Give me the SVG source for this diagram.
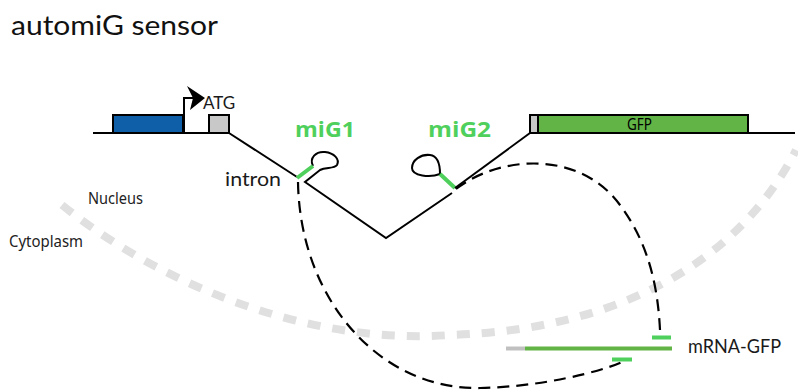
<svg xmlns="http://www.w3.org/2000/svg" width="798" height="390" viewBox="0 0 798 390">
<defs>
<style>
.line{fill:none;stroke:#000;stroke-width:2}
.dash{fill:none;stroke:#000;stroke-width:2.2;stroke-dasharray:12 7}
.green{fill:none;stroke:#4fd05c;stroke-width:4}
.box{stroke:#000;stroke-width:2}
.lbl{font-family:Lato,"Noto Sans",sans-serif;fill:#1a1a1a}
.mig{font-family:"Open Sans",Lato,sans-serif;font-weight:bold;fill:#4fd05c;font-size:22px}
.narrow{font-family:"Noto Sans",Lato,sans-serif;fill:#222}
</style>
</defs>
<rect width="798" height="390" fill="#fff"/>

<text class="lbl" x="11" y="35" font-size="27" textLength="207" lengthAdjust="spacingAndGlyphs" style="fill:#111">automiG sensor</text>

<g id="membrane">
<path d="M62,205 C170,292 320,345 450,335 C620,330 740,260 796,150" fill="none" stroke="#e0e0e0" stroke-width="8" stroke-dasharray="13 12"/>
<text class="narrow" x="88" y="204" font-size="15.5" textLength="55" lengthAdjust="spacingAndGlyphs">Nucleus</text>
<text class="narrow" x="9" y="247" font-size="15.5" textLength="74" lengthAdjust="spacingAndGlyphs">Cytoplasm</text>
</g>

<g id="gene">
<path class="line" d="M93,133 H229 M530,133 H795"/>
<rect id="promoter-exon" class="box" x="113" y="115" width="70" height="18" fill="#0f5fa8"/>
<rect id="exon1" class="box" x="209" y="115" width="20" height="18" fill="#c8c8c8"/>
<path class="line" d="M184,133 V98 H198"/>
<path d="M187,86 L205,98 L190,110 L193,98 Z" fill="#000"/>
<text class="lbl" x="203" y="109" font-size="17" font-family="'Liberation Sans',sans-serif">ATG</text>
<rect class="box" x="530" y="115" width="8" height="18" fill="#c8c8c8"/>
<rect id="gfp" class="box" x="538" y="115" width="210" height="18" fill="#62b446"/>
<text class="narrow" x="639.5" y="129.5" text-anchor="middle" font-size="15.5" textLength="25" lengthAdjust="spacingAndGlyphs" style="fill:#000">GFP</text>
</g>

<g id="intron">
<path class="line" d="M229,133 L297,177"/>
<path class="line" d="M313,166 C309,158 316,151 325,152 C334,153 340,159 337,165 C334,169 326,167 320,170 L305,182 L386,238 L452,193"/>
<path class="green" d="M297,178 L313,166"/>
<path class="line" d="M440,174 C430,178 412,176 412,168 C412,160 421,154 430,155 C438,156 440,164 440,174"/>
<path class="green" d="M440,174 L455,188"/>
<path class="line" d="M455,188 L530,133"/>
<text class="lbl" x="225" y="186" font-size="19" textLength="56" lengthAdjust="spacingAndGlyphs">intron</text>
</g>

<g id="miG1">
<text class="mig" x="295" y="137" textLength="60" lengthAdjust="spacingAndGlyphs">miG1</text>
</g>
<g id="miG2">
<text class="mig" x="428" y="137" textLength="63" lengthAdjust="spacingAndGlyphs">miG2</text>
</g>

<g id="mrna">
<path d="M506,348.5 H525" stroke="#c0c0c0" stroke-width="4"/>
<path d="M525,348.5 H672" stroke="#62b446" stroke-width="4"/>
<path d="M652,337.5 H671 M612,359.5 H632" stroke="#4fd05c" stroke-width="4"/>
<text class="lbl" x="688" y="353" font-size="19" textLength="93" lengthAdjust="spacingAndGlyphs">mRNA-GFP</text>
</g>

<g id="connectors">
<path class="dash" d="M298,182 C300,300 380,390 480,388 C540,387 600,372 622,362"/>
<path class="dash" d="M456,189 C500,155 580,150 620,205 C650,245 658,290 660,330"/>
</g>
</svg>
